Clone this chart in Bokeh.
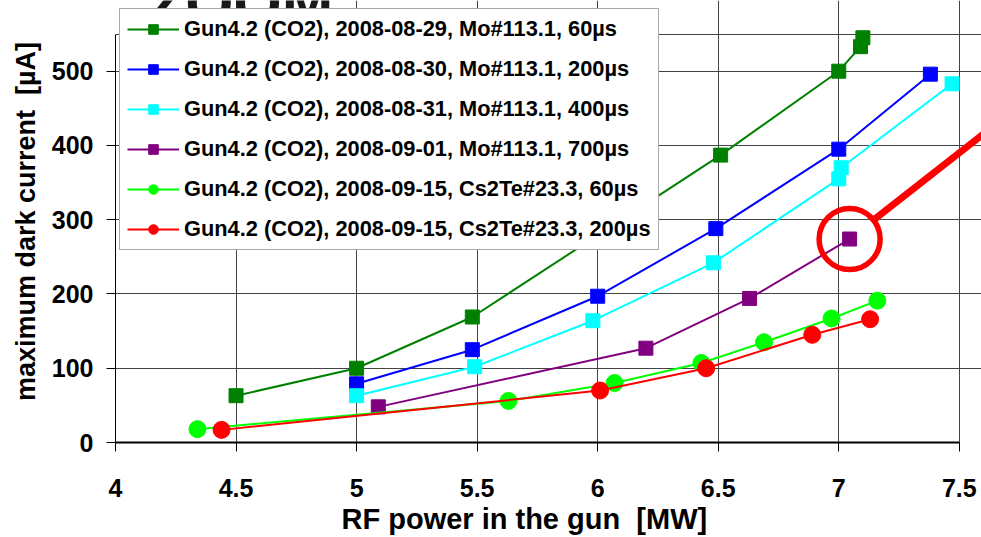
from bokeh.plotting import figure
from bokeh.models import Range1d, FixedTicker, Label, Title
from bokeh.embed import file_html
from bokeh.resources import INLINE

# ---------------- data ----------------
names = [
    "Gun4.2 (CO2), 2008-08-29, Mo#113.1, 60µs",
    "Gun4.2 (CO2), 2008-08-30, Mo#113.1, 200µs",
    "Gun4.2 (CO2), 2008-08-31, Mo#113.1, 400µs",
    "Gun4.2 (CO2), 2008-09-01, Mo#113.1, 700µs",
    "Gun4.2 (CO2), 2008-09-15, Cs2Te#23.3, 60µs",
    "Gun4.2 (CO2), 2008-09-15, Cs2Te#23.3, 200µs",
]
mo60_x = [4.50, 5.00, 5.48, 6.00, 6.51, 7.00, 7.09, 7.10]
mo60_y = [63, 100, 169, 279, 387, 500, 533, 545]
mo200_x = [5.00, 5.48, 6.00, 6.49, 7.00, 7.38]
mo200_y = [79, 125, 197, 288, 395, 496]
mo400_x = [5.00, 5.49, 5.98, 6.48, 7.00, 7.01, 7.47]
mo400_y = [63, 102, 164, 242, 355, 370, 483]
mo700_x = [5.09, 6.20, 6.63, 7.045]
mo700_y = [48, 127, 194, 274]
cs60_x = [4.34, 5.63, 6.07, 6.43, 6.69, 6.97, 7.16]
cs60_y = [18, 56, 80, 107, 135, 167, 191]
cs200_x = [4.44, 6.01, 6.45, 6.89, 7.13]
cs200_y = [17, 70, 100, 145, 166]

x_ticks = [4, 4.5, 5, 5.5, 6, 6.5, 7, 7.5]
x_tick_labels = ["4", "4.5", "5", "5.5", "6", "6.5", "7", "7.5"]
y_ticks = [0, 100, 200, 300, 400, 500]
y_tick_labels = ["0", "100", "200", "300", "400", "500"]

x_title = "RF power in the gun\u00a0 [MW]"
y_title = "maximum dark current\u00a0 [µA]"
top_caption = "ZOOM"

# ---------------- layout / style constants ----------------
X_MIN, X_MAX_AXIS, X_VIEW_END = 4.0, 7.5, 7.592
Y_MIN, Y_TOP_BORDER, Y_VIEW_END = 0, 550, 595.2
CALLOUT_START = (7.144, 299.6)
CALLOUT_END = (7.673, 434.0)

FONT = "Liberation Sans"

series = [
    (mo60_x, mo60_y, "#008000", "square"),
    (mo200_x, mo200_y, "#0000FF", "square"),
    (mo400_x, mo400_y, "#00FFFF", "square"),
    (mo700_x, mo700_y, "#800080", "square"),
    (cs60_x, cs60_y, "#00FF00", "circle"),
    (cs200_x, cs200_y, "#FF0000", "circle"),
]

p = figure(width=981, height=537, output_backend="svg", toolbar_location=None,
           x_range=Range1d(X_MIN, X_VIEW_END), y_range=Range1d(Y_MIN, Y_VIEW_END),
           min_border_left=115, min_border_right=0, min_border_top=0,
           min_border_bottom=95)
p.outline_line_color = None
p.background_fill_color = "white"
p.border_fill_color = "white"

# grid (plot-area border at 7.5 / 550 included)
p.xgrid.ticker = FixedTicker(ticks=x_ticks)
p.xgrid.bounds = (Y_MIN, Y_TOP_BORDER)
p.ygrid.ticker = FixedTicker(ticks=y_ticks + [Y_TOP_BORDER])
p.ygrid.bounds = (X_MIN, X_MAX_AXIS)
for g in (p.xgrid, p.ygrid):
    g.grid_line_color = "#444444"
    g.grid_line_width = 1

# axes
xa = p.xaxis[0]
xa.ticker = FixedTicker(ticks=x_ticks)
xa.major_label_overrides = {t: l for t, l in zip(x_ticks, x_tick_labels)}
xa.bounds = (X_MIN, X_MAX_AXIS)
xa.axis_line_width = 2
xa.axis_line_color = "black"
xa.major_tick_out = 9
xa.major_tick_in = 0
xa.minor_tick_out = 0
xa.minor_tick_in = 0
xa.major_label_standoff = 27
xa.major_label_text_font = FONT
xa.major_label_text_font_style = "bold"
xa.major_label_text_font_size = "25px"
xa.major_label_text_color = "black"

ya = p.yaxis[0]
ya.ticker = FixedTicker(ticks=y_ticks)
ya.major_label_overrides = {t: l for t, l in zip(y_ticks, y_tick_labels)}
ya.bounds = (Y_MIN, Y_TOP_BORDER)
ya.axis_line_width = 1
ya.axis_line_color = "black"
ya.major_tick_out = 9
ya.major_tick_in = 0
ya.minor_tick_out = 0
ya.minor_tick_in = 0
ya.major_label_standoff = 13
ya.major_label_text_font = FONT
ya.major_label_text_font_style = "bold"
ya.major_label_text_font_size = "25px"
ya.major_label_text_color = "black"
ya.axis_label = y_title
ya.axis_label_standoff = 8
ya.axis_label_text_font = FONT
ya.axis_label_text_font_style = "bold"
ya.axis_label_text_font_size = "27px"
ya.axis_label_text_color = "black"

# x-axis title as a below-title, placed over the 4..7.5 area
p.add_layout(Title(text=x_title, align="left", offset=226, standoff=3,
                   text_font=FONT, text_font_style="bold", text_font_size="29px",
                   text_color="black"), "below")

# series
for (xs, ys, color, marker), name in zip(series, names):
    p.line(xs, ys, line_color=color, line_width=2, legend_label=name)
    p.scatter(xs, ys, marker=marker, size=14 if marker == "square" else 17,
              fill_color=color, line_color=color, line_width=1, legend_label=name)

# callout around the last 700µs point
p.scatter([mo700_x[-1]], [mo700_y[-1]], marker="circle", size=61,
          fill_color=None, line_color="#FF0000", line_width=5.5)
p.line([CALLOUT_START[0], CALLOUT_END[0]], [CALLOUT_START[1], CALLOUT_END[1]],
       line_color="#FF0000", line_width=7)

# caption cut off at the top edge of the picture
p.add_layout(Label(x=32, y=440, x_units="screen", y_units="screen",
                   text=top_caption, text_align="left", text_baseline="alphabetic",
                   text_font=FONT, text_font_style="bold", text_font_size="62px",
                   text_color="#1a1a1a"))

# legend
lg = p.legend[0]
lg.location = (4, 192)
lg.padding = 7
lg.spacing = 14
lg.glyph_width = 52
lg.glyph_height = 24
lg.label_height = 24
lg.label_standoff = 5
lg.label_text_font = FONT
lg.label_text_font_style = "bold"
lg.label_text_font_size = "21.8px"
lg.label_text_color = "black"
lg.border_line_color = "#555555"
lg.border_line_width = 1
lg.background_fill_color = "white"
lg.background_fill_alpha = 1.0

open("out.html", "w").write(file_html(p, INLINE))
